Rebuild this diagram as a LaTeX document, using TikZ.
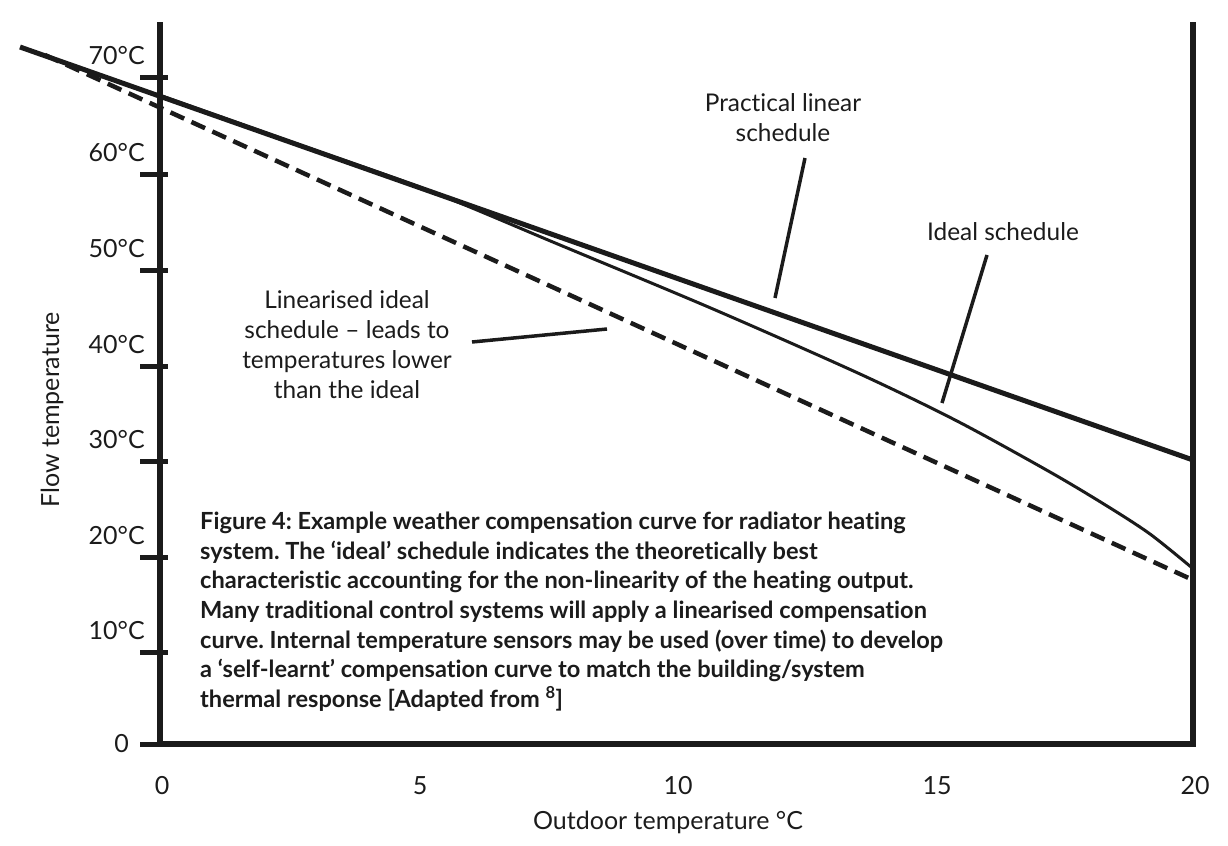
\documentclass[tikz,border=0pt]{standalone}
\usepackage{fontspec}
\setmainfont{Lato}[Ligatures=NoCommon]
\usetikzlibrary{calc}
\definecolor{ink}{HTML}{1B1B1B}
\tikzset{
  axisline/.style={line width=5.5bp, ink},
  tickmark/.style={line width=5bp, ink},
  practical/.style={line width=5bp, ink},
  idealline/.style={line width=3bp, ink},
  linearised/.style={line width=4.5bp, ink, dash pattern=on 15bp off 8bp},
  leader/.style={line width=3.5bp, ink},
  ylab/.style={anchor=east, inner sep=0pt, font=\fontsize{25bp}{30bp}\selectfont, text=ink},
  xlab/.style={anchor=center, inner sep=0pt, font=\fontsize{25bp}{30bp}\selectfont, text=ink},
  note/.style={align=center, inner sep=0pt, font=\fontsize{24.4bp}{30bp}\selectfont, text=ink},
  caption/.style={align=left, anchor=north west, inner sep=0pt, font=\bfseries\fontsize{23.6bp}{29.6bp}\selectfont, text=ink},
}
\frenchspacing
\begin{document}
\begin{tikzpicture}[x=1bp,y=-1bp]
\useasboundingbox (0,0) rectangle (1228,846);
% axes
\coordinate (o) at (160,744);
\coordinate (ytop) at (160,22);
\coordinate (xend) at (1193,744);
\coordinate (rtop) at (1193,22);
\draw[axisline] (ytop) -- (o) -- (xend) -- (rtop);
% y ticks
\foreach \v/\yy in {70/77,60/174,50/270,40/366,30/461,20/557,10/652}{
  \draw[tickmark] (140,\yy) -- (168,\yy);
  \node[ylab] (yl\v) at (145,\yy-21) {\v°C};
}
\draw[tickmark] (140,744) -- (160,744);
\node[ylab] (yl0) at (129,744) {0};
% x labels
\foreach \v/\xx in {0/162,5/420,10/678,15/937,20/1195}{
  \node[xlab] (xl\v) at (\xx,786) {\v};
}
\node[xlab] (xtitle) at (668,822) {Outdoor temperature °C};
\node[xlab, rotate=90] (ytitle) at (52,410) {Flow temperature};
% curves
\coordinate (pA) at (20,47);
\coordinate (pB) at (1193,460);
\draw[practical] (pA) -- (pB);
\coordinate (dA) at (45,55);
\coordinate (dB) at (1193,580);
\draw[linearised] (dA) -- (dB);
\draw[idealline] plot[smooth, tension=0.5] coordinates {(162,96) (300,145) (430,191) (560,245) (713,309) (860,374) (957,421) (1050,472) (1107,506) (1150,534) (1191,567)};
% labels
\node[note] (lprac) at (783,118) {Practical linear\\schedule};
\node[note] (lideal) at (1003,232) {Ideal schedule};
\node[note] (llin) at (347,345) {Linearised ideal\\schedule – leads to\\temperatures lower\\than the ideal};
\coordinate (kp1) at (805,158);
\coordinate (kp2) at (775,298);
\coordinate (ki1) at (987,255);
\coordinate (ki2) at (942,403);
\coordinate (kl1) at (472,342);
\coordinate (kl2) at (607,329);
\draw[leader] (kp1) -- (kp2);
\draw[leader] (ki1) -- (ki2);
\draw[leader] (kl1) -- (kl2);
% caption
\node[caption] (cap) at (200,512) {Figure 4: Example weather compensation curve for radiator heating\\
system. The ‘ideal’ schedule indicates the theoretically best\\
characteristic accounting for the non-linearity of the heating output.\\
Many traditional control systems will apply a linearised compensation\\
curve. Internal temperature sensors may be used (over time) to develop\\
a ‘self-learnt’ compensation curve to match the building/system\\
thermal response [Adapted from \textsuperscript{8}]};
\end{tikzpicture}
\end{document}
